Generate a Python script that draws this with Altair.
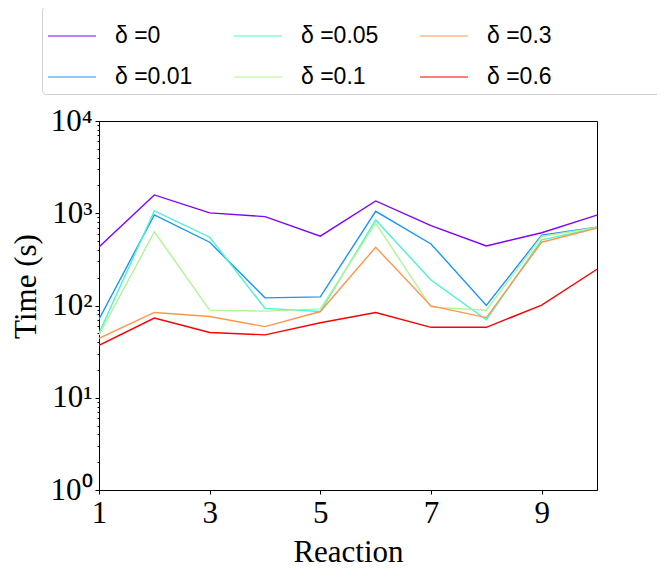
import altair as alt
import pandas as pd

reactions = [1, 2, 3, 4, 5, 6, 7, 8, 9, 10]
labels = ["δ =0", "δ =0.01", "δ =0.05", "δ =0.1", "δ =0.3", "δ =0.6"]
colors = ["#8000ff", "#1996f3", "#4df3ce", "#b2f396", "#ff964f", "#ff0000"]

t_0 = [430, 1580, 1010, 920, 565, 1360, 735, 442, 615, 955]
t_001 = [71, 960, 485, 121, 124, 1050, 465, 100, 580, 705]
t_005 = [50, 1060, 550, 93, 86, 845, 189, 70, 515, 690]
t_01 = [48, 630, 89, 87, 92, 780, 96, 89, 560, 700]
t_03 = [44, 84, 76, 59, 86, 428, 99, 74, 485, 690]
t_06 = [37, 73, 51, 48, 65, 84, 58, 58, 101, 247]

series = [t_0, t_001, t_005, t_01, t_03, t_06]

rows = []
for lab, vals in zip(labels, series):
    for r, v in zip(reactions, vals):
        rows.append({"reaction": r, "time": v, "delta": lab})
df = pd.DataFrame(rows)

major_vals = [1, 10, 100, 1000, 10000]
minor_vals = [m * 10 ** k for k in range(4) for m in range(2, 10)]
y_tick_vals = sorted(major_vals + minor_vals)

serif = "Liberation Serif"

xscale = alt.Scale(domain=[1, 10], nice=False)
yscale = alt.Scale(type="log", domain=[1, 10000], nice=False)

is_major = "indexof([1, 10, 100, 1000, 10000], datum.value) >= 0"

# widen the last legend column (matplotlib "expand" legend): non-breaking spaces
# closed by a zero-width space so that Vega does not trim them away
pad_last = "\u00a0" * 16 + "\u200b"

chart = alt.Chart(df).mark_line(strokeWidth=1.4, clip=True).encode(
    x=alt.X("reaction:Q", scale=xscale,
            axis=alt.Axis(values=[1, 3, 5, 7, 9], title="Reaction", grid=False,
                          tickSize=4, labelPadding=4, titlePadding=9, labelFlush=False,
                          labelFont=serif, labelFontSize=31, labelColor="black",
                          titleFont=serif, titleFontSize=31, titleFontWeight="normal",
                          titleColor="black", tickColor="black", domainColor="black")),
    y=alt.Y("time:Q", scale=yscale,
            axis=alt.Axis(values=y_tick_vals, title="Time (s)", grid=False,
                          labelExpr="{'1':'10⁰','10':'10¹','100':'10²','1000':'10³','10000':'10⁴'}[toString(datum.value)] || ''",
                          tickSize={"condition": {"test": is_major, "value": 4}, "value": 2},
                          labelPadding=3, titlePadding=8, labelFlush=False,
                          labelFont=serif, labelFontSize=31, labelColor="black",
                          titleY=165,
                          titleFont=serif, titleFontSize=31, titleFontWeight="normal",
                          titleColor="black", tickColor="black", domainColor="black")),
    color=alt.Color("delta:N", scale=alt.Scale(domain=labels, range=colors),
                    legend=alt.Legend(title=None, orient="none", legendX=-57, legendY=-115,
                                      columns=3, symbolType="stroke", symbolSize=2304,
                                      symbolStrokeWidth=1.2, labelFont="Liberation Sans",
                                      labelFontSize=23, labelColor="black", labelOffset=18,
                                      labelExpr="(indexof(datum.label, '0.3') >= 0 || indexof(datum.label, '0.6') >= 0) ? datum.label + '" + pad_last + "' : datum.label",
                                      columnPadding=38, rowPadding=4, padding=5,
                                      strokeColor="#d0d0d0", cornerRadius=4,
                                      fillColor="white", labelLimit=400)),
    detail="delta:N",
).properties(
    width=498, height=369,
    autosize=alt.AutoSizeParams(type="none"),
    padding={"left": 91, "top": 113, "right": 60, "bottom": 83},
).configure(font=serif).configure_view(stroke="black", strokeWidth=1)

chart.save("out.html", embed_options={"renderer": "svg", "actions": False})
